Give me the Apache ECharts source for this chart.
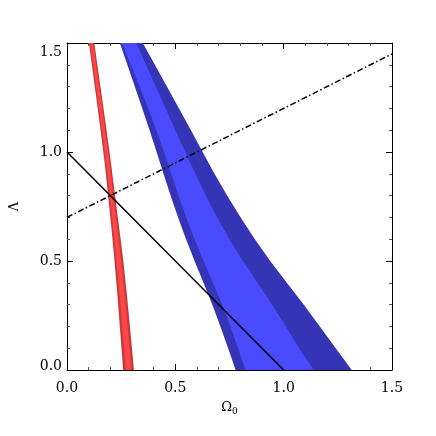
<!DOCTYPE html>
<html>
<head>
<meta charset="utf-8">
<script src="https://cdn.jsdelivr.net/npm/echarts@6/dist/echarts.min.js"></script>
<style>
html,body{margin:0;padding:0;background:#fff;}
#chart{width:436px;height:436px;}
</style>
</head>
<body>
<div id="chart"></div>
<script>
var blueLam = [1.5, 1.3, 1.1, 0.9, 0.7, 0.5, 0.3, 0.1, 0.0];
var blueOuterLeft  = [0.244, 0.313, 0.382, 0.445, 0.511, 0.588, 0.672, 0.744, 0.778];
var blueInnerLeft  = [0.253, 0.336, 0.414, 0.481, 0.548, 0.629, 0.718, 0.790, 0.824];
var blueInnerRight = [0.320, 0.410, 0.500, 0.592, 0.690, 0.810, 0.948, 1.072, 1.138];
var blueOuterRight = [0.350, 0.461, 0.573, 0.679, 0.799, 0.935, 1.094, 1.240, 1.314];

var redLam = [1.5, 1.0, 0.75, 0.5, 0.25, 0.0];
var redOuterLeft  = [0.101, 0.169, 0.195, 0.220, 0.240, 0.259];
var redInnerLeft  = [0.107, 0.176, 0.203, 0.229, 0.251, 0.271];
var redInnerRight = [0.120, 0.190, 0.219, 0.251, 0.275, 0.297];
var redOuterRight = [0.126, 0.197, 0.228, 0.261, 0.286, 0.309];

// flat universe and q0 = -0.7 lines
var flatLine = [[0, 1], [1, 0]];
var accelLine = [[0, 0.7], [1.5, 1.45]];

var ticks = [0, 0.5, 1.0, 1.5];

var serif = 'DejaVu Serif';

// smooth edge through the read points (quadratic through midpoints)
function edgePath(p, first) {
  var d = (first ? 'M' : 'L') + p[0][0] + ' ' + p[0][1];
  if (p.length > 2) {
    d += 'L' + (p[0][0] + p[1][0]) / 2 + ' ' + (p[0][1] + p[1][1]) / 2;
    for (var i = 1; i < p.length - 1; i++) {
      var mx = (p[i][0] + p[i + 1][0]) / 2, my = (p[i][1] + p[i + 1][1]) / 2;
      d += 'Q' + p[i][0] + ' ' + p[i][1] + ' ' + mx + ' ' + my;
    }
  }
  d += 'L' + p[p.length - 1][0] + ' ' + p[p.length - 1][1];
  return d;
}

function bandSeries(lam, left, right, color, z) {
  return {
    type: 'custom',
    coordinateSystem: 'cartesian2d',
    clip: true,
    silent: true,
    z: z,
    data: lam.map(function (l, i) { return [left[i], l, right[i]]; }),
    encode: {x: 0, y: 1},
    renderItem: function (params, api) {
      if (params.dataIndex !== 0) return;
      var L = [], R = [];
      for (var i = 0; i < lam.length; i++) {
        L.push(api.coord([left[i], lam[i]]));
        R.push(api.coord([right[i], lam[i]]));
      }
      R.reverse();
      var d = edgePath(L, true) + edgePath(R, false) + 'Z';
      return {type: 'path', shape: {pathData: d}, style: {fill: color}};
    }
  };
}

function axisBase(pos, showLabel) {
  return {
    type: 'value',
    min: 0, max: 1.5, interval: 0.5,
    position: pos,
    axisLine: {show: true, onZero: false, lineStyle: {color: '#000', width: 1}},
    axisTick: {show: true, inside: true, length: 6, lineStyle: {color: '#000', width: 1}},
    minorTick: {show: true, splitNumber: 5, length: 3, lineStyle: {color: '#555', width: 1}},
    splitLine: {show: false},
    minorSplitLine: {show: false},
    axisLabel: {show: showLabel}
  };
}

var xBottom = axisBase('bottom', true);
xBottom.axisLabel = {
  show: true, margin: 11, color: '#000', fontFamily: serif, fontSize: 14,
  formatter: function (v) { return v.toFixed(1); }
};
xBottom.name = '{a|\u03A9}{s|0}';
xBottom.nameLocation = 'middle';
xBottom.nameGap = 30;
xBottom.nameTextStyle = {
  color: '#000',
  rich: {
    a: {fontFamily: serif, fontSize: 13, color: '#000'},
    s: {fontFamily: serif, fontSize: 9, color: '#000', verticalAlign: 'bottom', padding: [7, 0, 0, 0]}
  }
};

var yLeft = axisBase('left', true);
yLeft.axisLabel = {
  show: true, margin: 5, color: '#000', fontFamily: serif, fontSize: 14,
  formatter: function (v) {
    var s = v.toFixed(1);
    if (v === ticks[ticks.length - 1]) return '{t|' + s + '}';
    if (v === ticks[0]) return '{b|' + s + '}';
    return s;
  },
  rich: {
    t: {fontFamily: serif, fontSize: 14, color: '#000', padding: [18, 0, 0, 0]},
    b: {fontFamily: serif, fontSize: 14, color: '#000', padding: [0, 0, 7, 0]}
  }
};
yLeft.name = '\u039B';
yLeft.nameLocation = 'middle';
yLeft.nameRotate = 90;
yLeft.nameGap = 46;
yLeft.nameTextStyle = {color: '#000', fontFamily: serif, fontSize: 13};

var chart = echarts.init(document.getElementById('chart'));
chart.setOption({
  animation: false,
  backgroundColor: '#fff',
  grid: {left: 65, top: 43, right: 44, bottom: 66},
  xAxis: [xBottom, axisBase('top', false)],
  yAxis: [yLeft, axisBase('right', false)],
  series: [
    bandSeries(blueLam, blueOuterLeft, blueOuterRight, '#3434b4', 1),
    bandSeries(blueLam, blueInnerLeft, blueInnerRight, '#4a4aff', 2),
    bandSeries(redLam, redOuterLeft, redOuterRight, '#c83a3e', 3),
    bandSeries(redLam, redInnerLeft, redInnerRight, '#ff4646', 4),
    {
      type: 'line', data: flatLine, showSymbol: false, silent: true, z: 5, clip: true,
      lineStyle: {color: '#000', width: 1.5}
    },
    {
      type: 'line', data: accelLine, showSymbol: false, silent: true, z: 5, clip: true,
      lineStyle: {color: '#000', width: 1.5, type: [6, 2.5, 1.5, 2.5]}
    }
  ]
});
</script>
</body>
</html>
